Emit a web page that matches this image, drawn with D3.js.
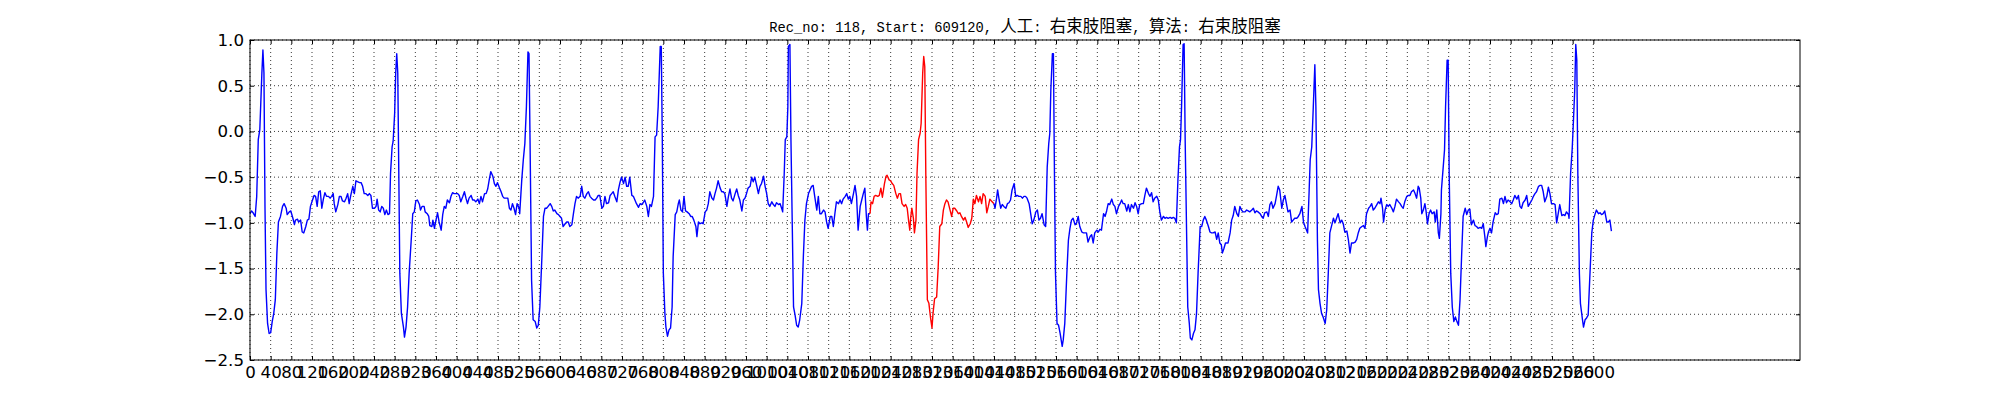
<!DOCTYPE html>
<html>
<head>
<meta charset="utf-8">
<script src="https://cdn.jsdelivr.net/npm/d3@7"></script>
<style>
  body { margin: 0; background: #fff; }
  svg { display: block; }
</style>
</head>
<body>
<svg id="chart" width="2000" height="400"></svg>
<script>
  // ECG record, sample index -> amplitude
  var titleText = "Rec_no: 118, Start: 609120, 人工: 右束肢阻塞, 算法: 右束肢阻塞";

  var yTicks = [1.0, 0.5, 0.0, -0.5, -1.0, -1.5, -2.0, -2.5];
  var xTicks = d3.range(0, 2601, 40);

  // annotated beat (drawn red) runs from redStart to redEnd
  var redStart = 1200, redEnd = 1440;

  var blueBefore = [
    [0,-0.90],[3,-0.87],[6,-0.89],[10,-0.93],[13,-0.71],[16,-0.09],[19,0.02],[23,0.64],[25,0.89],[27,0.64],
    [29,-0.82],[31,-1.73],[34,-2.10],[37,-2.21],[40,-2.20],[43,-2.08],[46,-1.99],[49,-1.84],[52,-1.33],[55,-0.99],
    [59,-0.93],[63,-0.82],[66,-0.79],[70,-0.84],[72,-0.91],[76,-0.88],[79,-0.87],[83,-0.95],[86,-1.02],[88,-0.97],
    [92,-0.96],[94,-0.99],[98,-0.97],[101,-1.10],[104,-1.11],[108,-1.04],[111,-0.97],[114,-0.96],[117,-0.82],[121,-0.75],
    [124,-0.70],[127,-0.71],[130,-0.82],[133,-0.66],[136,-0.65],[139,-0.84],[142,-0.74],[145,-0.67],[148,-0.71],[152,-0.71],
    [155,-0.73],[158,-0.71],[161,-0.68],[163,-0.79],[166,-0.88],[170,-0.80],[173,-0.71],[176,-0.71],[179,-0.76],[183,-0.77],
    [186,-0.73],[189,-0.68],[192,-0.79],[195,-0.70],[199,-0.60],[202,-0.68],[205,-0.54],[208,-0.55],[212,-0.56],[215,-0.56],
    [218,-0.60],[221,-0.68],[224,-0.68],[228,-0.70],[231,-0.68],[234,-0.70],[237,-0.84],[241,-0.84],[244,-0.82],[246,-0.74],
    [249,-0.86],[252,-0.88],[255,-0.82],[258,-0.84],[261,-0.91],[264,-0.86],[267,-0.91],[270,-0.90],[272,-0.46],[275,-0.17],
    [277,-0.11],[280,0.20],[282,0.64],[284,0.85],[286,0.64],[288,-0.46],[290,-1.55],[293,-1.99],[297,-2.14],[299,-2.25],
    [302,-2.14],[305,-1.92],[308,-1.55],[312,-1.19],[315,-0.90],[318,-0.88],[321,-0.76],[324,-0.75],[328,-0.80],[330,-0.86],
    [333,-0.82],[337,-0.82],[339,-0.88],[343,-0.90],[346,-0.93],[348,-1.03],[352,-1.04],[354,-0.97],[357,-1.06],[360,-0.97],
    [363,-0.89],[366,-0.99],[370,-1.08],[373,-0.91],[376,-0.82],[379,-0.84],[382,-0.75],[386,-0.78],[389,-0.71],[392,-0.67],
    [395,-0.68],[399,-0.68],[402,-0.68],[405,-0.70],[408,-0.77],[412,-0.71],[415,-0.66],[418,-0.73],[421,-0.79],[424,-0.73],
    [428,-0.70],[431,-0.75],[434,-0.75],[437,-0.77],[441,-0.74],[444,-0.79],[447,-0.71],[450,-0.77],[454,-0.68],[457,-0.68],
    [460,-0.63],[463,-0.53],[466,-0.44],[470,-0.49],[473,-0.57],[476,-0.60],[479,-0.56],[483,-0.62],[486,-0.66],[489,-0.71],
    [492,-0.73],[495,-0.73],[499,-0.73],[502,-0.84],[505,-0.86],[508,-0.79],[511,-0.84],[514,-0.91],[517,-0.79],[521,-0.84],
    [522,-0.90],[526,-0.53],[529,-0.31],[532,-0.13],[535,0.27],[538,0.87],[540,0.85],[542,-0.09],[545,-1.63],[548,-2.06],
    [552,-2.08],[555,-2.15],[558,-2.12],[561,-1.92],[565,-1.37],[568,-0.93],[571,-0.84],[574,-0.84],[577,-0.82],[581,-0.79],
    [584,-0.82],[587,-0.87],[590,-0.86],[594,-0.90],[597,-0.91],[600,-0.93],[603,-0.95],[606,-1.04],[610,-1.01],[613,-0.99],
    [616,-0.99],[619,-1.04],[623,-1.02],[626,-0.90],[629,-0.79],[632,-0.71],[635,-0.73],[639,-0.71],[642,-0.60],[645,-0.71],
    [648,-0.73],[652,-0.68],[655,-0.66],[658,-0.71],[661,-0.73],[665,-0.75],[668,-0.75],[671,-0.73],[674,-0.70],[677,-0.70],
    [681,-0.84],[684,-0.82],[687,-0.71],[690,-0.79],[694,-0.78],[697,-0.70],[700,-0.68],[703,-0.66],[706,-0.71],[710,-0.77],
    [713,-0.64],[716,-0.56],[719,-0.50],[723,-0.57],[726,-0.50],[729,-0.60],[732,-0.60],[735,-0.50],[739,-0.70],[742,-0.71],
    [745,-0.75],[748,-0.79],[752,-0.83],[755,-0.79],[758,-0.80],[761,-0.78],[764,-0.75],[768,-0.82],[771,-0.93],[774,-0.80],
    [777,-0.82],[781,-0.71],[784,-0.06],[787,-0.04],[790,0.27],[794,0.93],[796,0.93],[798,-0.09],[800,-1.55],[803,-1.99],
    [805,-2.14],[808,-2.24],[811,-2.17],[814,-2.15],[817,-1.92],[819,-1.37],[823,-0.91],[826,-0.88],[829,-0.79],[831,-0.75],
    [834,-0.86],[837,-0.88],[840,-0.71],[843,-0.87],[846,-0.88],[850,-0.90],[853,-0.93],[856,-0.93],[859,-0.97],[863,-1.04],
    [865,-1.15],[868,-0.99],[871,-1.01],[874,-1.00],[877,-1.01],[881,-0.88],[884,-0.86],[887,-0.79],[890,-0.66],[894,-0.73],
    [897,-0.75],[900,-0.68],[903,-0.62],[906,-0.54],[910,-0.62],[913,-0.66],[916,-0.66],[919,-0.68],[923,-0.82],[926,-0.71],
    [929,-0.63],[932,-0.73],[935,-0.76],[939,-0.68],[942,-0.63],[945,-0.70],[948,-0.75],[952,-0.87],[955,-0.75],[958,-0.73],
    [961,-0.68],[964,-0.62],[968,-0.60],[971,-0.50],[974,-0.55],[977,-0.50],[981,-0.60],[984,-0.68],[987,-0.60],[990,-0.57],
    [994,-0.49],[997,-0.60],[1000,-0.68],[1003,-0.79],[1006,-0.82],[1010,-0.77],[1013,-0.80],[1016,-0.82],[1019,-0.78],[1023,-0.80],
    [1026,-0.79],[1029,-0.84],[1031,-0.88],[1034,-0.46],[1036,-0.09],[1039,-0.06],[1041,0.27],[1042,0.93],[1045,0.95],[1047,-0.09],
    [1050,-1.19],[1052,-1.92],[1055,-2.01],[1058,-2.12],[1061,-2.14],[1064,-2.06],[1068,-1.88],[1071,-1.37],[1074,-0.97],[1077,-0.79],
    [1081,-0.68],[1084,-0.64],[1087,-0.60],[1090,-0.59],[1093,-0.71],[1097,-0.86],[1100,-0.71],[1103,-0.90],[1106,-0.90],[1110,-0.86],
    [1113,-0.88],[1116,-0.99],[1119,-1.06],[1123,-0.93],[1126,-0.93],[1129,-1.04],[1132,-0.90],[1135,-0.77],[1139,-0.79],[1142,-0.75],
    [1145,-0.79],[1148,-0.74],[1152,-0.71],[1155,-0.68],[1158,-0.74],[1161,-0.71],[1164,-0.79],[1168,-0.68],[1171,-0.59],[1174,-0.71],
    [1177,-1.08],[1181,-0.82],[1184,-0.75],[1187,-0.68],[1190,-0.62],[1193,-0.93],[1195,-1.08],[1197,-0.90],[1200,-0.90]
  ];

  var redBeat = [
    [1200,-0.90],[1202,-0.77],[1205,-0.79],[1208,-0.71],[1211,-0.70],[1215,-0.71],[1218,-0.70],[1221,-0.62],[1224,-0.72],[1228,-0.57],
    [1231,-0.49],[1233,-0.48],[1237,-0.53],[1240,-0.54],[1243,-0.57],[1246,-0.59],[1250,-0.68],[1253,-0.73],[1256,-0.68],[1259,-0.68],
    [1262,-0.79],[1266,-0.82],[1269,-0.80],[1272,-0.84],[1275,-0.99],[1277,-1.08],[1279,-0.93],[1281,-0.84],[1284,-0.95],[1286,-1.11],
    [1289,-0.97],[1291,-0.46],[1294,-0.09],[1297,-0.02],[1299,0.09],[1302,0.64],[1304,0.82],[1306,0.71],[1308,-0.46],[1311,-1.84],
    [1314,-1.88],[1317,-2.03],[1320,-2.15],[1322,-1.99],[1325,-1.83],[1329,-1.81],[1332,-1.48],[1335,-1.04],[1339,-1.01],[1342,-0.86],
    [1345,-0.79],[1348,-0.75],[1351,-0.77],[1355,-0.86],[1358,-0.93],[1361,-0.84],[1364,-0.84],[1368,-0.87],[1371,-0.90],[1374,-0.89],
    [1377,-0.93],[1381,-0.97],[1384,-0.94],[1387,-0.99],[1390,-1.05],[1394,-1.01],[1397,-0.95],[1400,-0.74],[1403,-0.79],[1406,-0.70],
    [1410,-0.77],[1413,-0.71],[1416,-0.79],[1419,-0.68],[1423,-0.71],[1426,-0.89],[1429,-0.82],[1432,-0.74],[1435,-0.76],[1440,-0.79]
  ];

  var blueAfter = [
    [1440,-0.79],[1442,-0.84],[1445,-0.73],[1447,-0.64],[1450,-0.75],[1453,-0.84],[1456,-0.80],[1459,-0.82],[1463,-0.84],[1466,-0.79],
    [1469,-0.78],[1472,-0.75],[1475,-0.64],[1479,-0.57],[1482,-0.71],[1485,-0.70],[1488,-0.71],[1492,-0.71],[1495,-0.73],[1498,-0.71],
    [1501,-0.71],[1504,-0.73],[1508,-0.79],[1511,-0.90],[1514,-1.01],[1517,-0.97],[1521,-0.88],[1524,-0.86],[1527,-0.97],[1530,-0.95],
    [1533,-0.90],[1537,-1.02],[1540,-1.04],[1543,-0.39],[1546,-0.13],[1548,-0.02],[1550,0.45],[1553,0.85],[1555,0.85],[1557,-0.46],
    [1559,-1.55],[1562,-2.10],[1565,-2.12],[1568,-2.21],[1572,-2.35],[1574,-2.28],[1577,-2.10],[1581,-1.55],[1584,-1.19],[1587,-1.06],
    [1590,-0.97],[1593,-0.95],[1597,-1.02],[1600,-1.00],[1603,-0.93],[1606,-1.04],[1610,-1.10],[1613,-1.11],[1616,-1.11],[1619,-1.11],
    [1622,-1.21],[1626,-1.15],[1629,-1.13],[1632,-1.22],[1635,-1.11],[1639,-1.08],[1642,-1.10],[1645,-1.07],[1648,-1.08],[1652,-0.90],
    [1655,-0.93],[1658,-0.87],[1661,-0.79],[1664,-0.80],[1668,-0.74],[1671,-0.80],[1674,-0.82],[1677,-0.90],[1681,-0.82],[1684,-0.79],
    [1687,-0.75],[1690,-0.79],[1693,-0.79],[1697,-0.87],[1700,-0.80],[1703,-0.88],[1706,-0.80],[1710,-0.84],[1713,-0.78],[1716,-0.82],
    [1719,-0.90],[1722,-0.80],[1726,-0.79],[1729,-0.79],[1732,-0.70],[1735,-0.62],[1739,-0.68],[1742,-0.71],[1745,-0.67],[1748,-0.77],
    [1751,-0.73],[1755,-0.71],[1758,-0.75],[1761,-0.88],[1764,-0.97],[1768,-0.93],[1771,-0.95],[1774,-0.94],[1777,-0.95],[1781,-0.94],
    [1784,-0.95],[1787,-0.94],[1790,-0.95],[1793,-1.00],[1796,-0.53],[1799,-0.17],[1801,-0.09],[1803,0.27],[1806,0.95],[1808,0.96],
    [1810,-0.09],[1813,-1.19],[1815,-1.92],[1818,-2.10],[1820,-2.26],[1823,-2.28],[1826,-2.21],[1829,-2.17],[1832,-1.99],[1835,-1.55],
    [1839,-1.04],[1842,-1.04],[1845,-0.97],[1848,-0.93],[1851,-0.97],[1855,-1.04],[1858,-1.10],[1861,-1.11],[1864,-1.11],[1868,-1.10],
    [1871,-1.18],[1874,-1.11],[1877,-1.22],[1880,-1.24],[1882,-1.33],[1885,-1.28],[1888,-1.22],[1890,-1.22],[1893,-1.22],[1897,-1.11],
    [1900,-0.97],[1903,-0.92],[1906,-0.82],[1910,-0.90],[1913,-0.93],[1916,-0.82],[1919,-0.86],[1922,-0.88],[1926,-0.88],[1929,-0.86],
    [1932,-0.87],[1935,-0.88],[1939,-0.86],[1942,-0.84],[1945,-0.89],[1948,-0.87],[1951,-0.88],[1955,-0.90],[1958,-0.93],[1961,-0.95],
    [1964,-0.89],[1968,-0.88],[1971,-0.93],[1974,-0.80],[1977,-0.77],[1980,-0.84],[1984,-0.79],[1987,-0.70],[1990,-0.60],[1993,-0.64],
    [1997,-0.84],[2000,-0.75],[2003,-0.70],[2006,-0.79],[2009,-0.88],[2013,-0.86],[2016,-0.99],[2019,-0.97],[2022,-0.95],[2026,-0.95],
    [2029,-0.93],[2032,-0.90],[2036,-0.82],[2039,-0.99],[2042,-1.04],[2045,-1.08],[2047,-1.11],[2050,-0.64],[2052,-0.31],[2055,-0.17],
    [2058,0.27],[2061,0.73],[2063,0.27],[2066,-1.19],[2068,-1.73],[2071,-1.88],[2074,-1.99],[2077,-2.03],[2081,-2.10],[2084,-1.95],
    [2087,-1.55],[2090,-1.11],[2094,-1.02],[2097,-0.95],[2100,-1.00],[2103,-0.95],[2106,-0.90],[2110,-1.00],[2113,-0.97],[2116,-1.01],
    [2119,-1.10],[2123,-1.09],[2126,-1.19],[2129,-1.33],[2132,-1.22],[2136,-1.22],[2139,-1.21],[2142,-1.18],[2145,-1.11],[2148,-1.06],
    [2152,-1.04],[2155,-1.03],[2158,-1.06],[2161,-0.90],[2165,-0.84],[2168,-0.82],[2171,-0.79],[2174,-0.86],[2177,-0.84],[2181,-0.80],
    [2184,-0.77],[2187,-0.79],[2189,-0.73],[2192,-0.84],[2194,-0.99],[2197,-0.86],[2200,-0.80],[2203,-0.82],[2206,-0.80],[2210,-0.84],
    [2213,-0.88],[2216,-0.82],[2219,-0.74],[2223,-0.77],[2226,-0.79],[2229,-0.82],[2232,-0.84],[2235,-0.77],[2239,-0.71],[2242,-0.70],
    [2245,-0.70],[2248,-0.66],[2252,-0.64],[2255,-0.68],[2258,-0.73],[2261,-0.60],[2263,-0.62],[2266,-0.73],[2268,-0.90],[2271,-0.86],
    [2274,-0.79],[2276,-0.86],[2279,-1.01],[2282,-0.90],[2285,-0.86],[2288,-0.90],[2292,-0.88],[2294,-0.99],[2297,-0.86],[2300,-1.11],
    [2302,-1.17],[2305,-0.90],[2306,-0.64],[2310,-0.35],[2312,-0.20],[2314,0.27],[2317,0.78],[2319,0.78],[2321,-0.46],[2324,-1.55],
    [2327,-1.92],[2330,-2.08],[2333,-2.03],[2336,-2.08],[2339,-2.12],[2342,-1.84],[2345,-1.37],[2348,-0.93],[2352,-0.84],[2355,-0.91],
    [2358,-0.86],[2361,-0.85],[2364,-1.02],[2368,-0.97],[2371,-1.03],[2374,-1.04],[2377,-1.06],[2381,-1.05],[2384,-1.06],[2387,-1.01],
    [2390,-1.15],[2392,-1.26],[2395,-1.15],[2397,-1.10],[2400,-1.06],[2403,-1.11],[2406,-0.99],[2410,-0.89],[2413,-0.91],[2416,-0.90],
    [2419,-0.74],[2423,-0.73],[2426,-0.79],[2429,-0.71],[2432,-0.78],[2435,-0.75],[2439,-0.77],[2442,-0.79],[2445,-0.75],[2448,-0.70],
    [2452,-0.74],[2455,-0.70],[2458,-0.82],[2461,-0.84],[2464,-0.78],[2468,-0.75],[2471,-0.70],[2474,-0.82],[2477,-0.79],[2481,-0.75],
    [2484,-0.71],[2487,-0.68],[2490,-0.66],[2494,-0.60],[2497,-0.59],[2500,-0.59],[2503,-0.66],[2506,-0.77],[2510,-0.71],[2513,-0.61],
    [2516,-0.68],[2519,-0.79],[2523,-0.79],[2526,-0.80],[2529,-1.00],[2532,-0.90],[2535,-0.80],[2539,-0.92],[2542,-0.91],[2545,-0.92],
    [2548,-0.88],[2552,-0.91],[2553,-0.95],[2556,-0.46],[2559,-0.20],[2561,0.05],[2564,0.45],[2566,0.95],[2568,0.78],[2570,-0.46],
    [2573,-1.55],[2575,-1.88],[2579,-2.06],[2581,-2.14],[2584,-2.06],[2587,-2.04],[2590,-2.01],[2593,-1.62],[2597,-1.11],[2600,-0.97],
    [2603,-0.91],[2606,-0.86],[2610,-0.90],[2613,-0.89],[2616,-0.91],[2619,-0.90],[2622,-0.87],[2626,-0.99],[2629,-0.99],[2632,-0.97],
    [2635,-1.09]
  ];

  var svg = d3.select("#chart");
  var plotLeft = 250, plotRight = 1800, plotTop = 40, plotBottom = 360;

  var x = d3.scaleLinear().domain([0, 3000]).range([plotLeft, plotRight]);
  var y = d3.scaleLinear().domain([-2.5, 1.0]).range([plotBottom, plotTop]);

  svg.append("rect").attr("width", 2000).attr("height", 400).attr("fill", "#fff");

  // dotted grid
  var grid = svg.append("g")
    .attr("stroke", "#222").attr("stroke-width", 0.9).attr("stroke-dasharray", "1,3");
  grid.selectAll(".gx").data(xTicks).enter().append("line")
    .attr("x1", d => x(d)).attr("x2", d => x(d))
    .attr("y1", plotTop).attr("y2", plotBottom);
  grid.selectAll(".gy").data(yTicks).enter().append("line")
    .attr("x1", plotLeft).attr("x2", plotRight)
    .attr("y1", d => y(d)).attr("y2", d => y(d));

  // the trace
  var line = d3.line().x(d => x(d[0])).y(d => y(d[1]));
  var traces = [
    { pts: blueBefore.filter(d => d[0] <= redStart), color: "#0000ff" },
    { pts: redBeat, color: "#ff0000" },
    { pts: blueAfter.filter(d => d[0] >= redEnd), color: "#0000ff" }
  ];
  svg.append("g").selectAll("path").data(traces).enter().append("path")
    .attr("d", d => line(d.pts))
    .attr("fill", "none")
    .attr("stroke", d => d.color)
    .attr("stroke-width", 1.4)
    .attr("stroke-linejoin", "round");

  // axes, ticks pointing inward on all four sides
  var fmtY = d3.format(".1f");
  var axisFont = "DejaVu Sans";

  var bottomAxis = svg.append("g").attr("transform", "translate(0," + plotBottom + ")")
    .call(d3.axisBottom(x).tickValues(xTicks).tickFormat(d3.format("d")).tickSize(-4).tickPadding(6));
  var leftAxis = svg.append("g").attr("transform", "translate(" + plotLeft + ",0)")
    .call(d3.axisLeft(y).tickValues(yTicks).tickFormat(fmtY).tickSize(-4).tickPadding(6));
  var topAxis = svg.append("g").attr("transform", "translate(0," + plotTop + ")")
    .call(d3.axisTop(x).tickValues(xTicks).tickFormat("").tickSize(-4));
  var rightAxis = svg.append("g").attr("transform", "translate(" + plotRight + ",0)")
    .call(d3.axisRight(y).tickValues(yTicks).tickFormat("").tickSize(-4));

  [bottomAxis, leftAxis, topAxis, rightAxis].forEach(function(a) {
    a.select(".domain").remove();
    a.selectAll(".tick line").attr("stroke", "#000");
    a.selectAll("text")
      .attr("font-family", axisFont)
      .attr("font-size", "16.67px")
      .attr("fill", "#000");
  });

  svg.append("rect")
    .attr("x", plotLeft).attr("y", plotTop)
    .attr("width", plotRight - plotLeft).attr("height", plotBottom - plotTop)
    .attr("fill", "none").attr("stroke", "#000").attr("stroke-width", 1);

  // title: latin runs in a monospace face, CJK runs in Noto Sans CJK
  var title = svg.append("text")
    .attr("x", (plotLeft + plotRight) / 2).attr("y", 32)
    .attr("text-anchor", "middle").attr("fill", "#000");
  titleText.match(/[\u4e00-\u9fff]+|[^\u4e00-\u9fff]+/g).forEach(function(run) {
    var cjk = /[\u4e00-\u9fff]/.test(run);
    title.append("tspan")
      .attr("font-family", cjk ? "Noto Sans CJK SC" : "Liberation Mono")
      .attr("font-size", cjk ? "16.5px" : "13.75px")
      .style("white-space", "pre")
      .text(run);
  });
</script>
</body>
</html>
